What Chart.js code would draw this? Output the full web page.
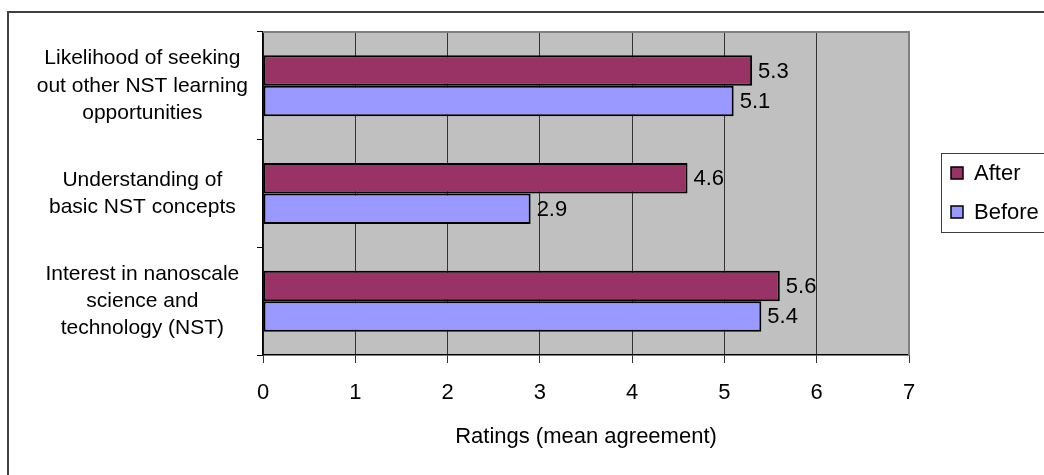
<!DOCTYPE html>
<html>
<head>
<meta charset="utf-8">
<script src="https://cdn.jsdelivr.net/npm/chart.js@4.4.1/dist/chart.umd.min.js"></script>
<style>
  html, body { margin: 0; padding: 0; background: #fff; }
  #wrap { width: 1044px; height: 475px; }
</style>
</head>
<body>
<div id="wrap"><canvas id="c" width="1044" height="475"></canvas></div>
<script>
// Survey items (top to bottom), each label split into display lines
const categories = [
  ['Likelihood of seeking', 'out other NST learning', 'opportunities'],
  ['Understanding of', 'basic NST concepts'],
  ['Interest in nanoscale', 'science and', 'technology (NST)']
];
const afterValues = [5.3, 4.6, 5.6];
const beforeValues = [5.1, 2.9, 5.4];
const seriesNames = ['After', 'Before'];
const axisTitle = 'Ratings (mean agreement)';
const axisMin = 0;
const axisMax = 7;

const FONT = "'Liberation Sans', Arial, sans-serif";
const COLORS = ['#993366', '#9999FF'];

// Gray plot background, outer frame and plot border
const framePlugin = {
  id: 'frame',
  beforeDraw(chart) {
    const { ctx, chartArea: a } = chart;
    ctx.save();
    ctx.fillStyle = '#fff';
    ctx.fillRect(0, 0, chart.width, chart.height);
    ctx.strokeStyle = '#404040';
    ctx.lineWidth = 2;
    ctx.strokeRect(8, 12, chart.width + 20, chart.height + 20);
    ctx.fillStyle = '#C0C0C0';
    ctx.fillRect(a.left, a.top, a.right - a.left, a.bottom - a.top);
    ctx.restore();
  },
  beforeDatasetsDraw(chart) {
    const { ctx, chartArea: a } = chart;
    ctx.save();
    ctx.strokeStyle = '#808080';
    ctx.lineWidth = 2;
    ctx.beginPath();
    ctx.moveTo(a.left, a.top);
    ctx.lineTo(a.right, a.top);
    ctx.lineTo(a.right, a.bottom);
    ctx.stroke();
    ctx.restore();
  }
};

// Value labels at the end of each bar
const valueLabelPlugin = {
  id: 'valueLabels',
  afterDatasetsDraw(chart) {
    const { ctx } = chart;
    ctx.save();
    ctx.font = '22px ' + FONT;
    ctx.fillStyle = '#000';
    ctx.textAlign = 'left';
    ctx.textBaseline = 'middle';
    chart.data.datasets.forEach((ds, di) => {
      const meta = chart.getDatasetMeta(di);
      meta.data.forEach((bar, i) => {
        ctx.fillText(ds.data[i].toFixed(1), bar.x + 6, bar.y + 1);
      });
    });
    ctx.restore();
  }
};

// Boxed legend on the right
const legendBoxPlugin = {
  id: 'legendBox',
  afterDraw(chart) {
    const { ctx } = chart;
    const left = 941, top = 153, bottom = 232;
    ctx.save();
    ctx.fillStyle = '#fff';
    ctx.fillRect(left, top, chart.width - left + 10, bottom - top);
    ctx.strokeStyle = '#404040';
    ctx.lineWidth = 1;
    ctx.strokeRect(left + 0.5, top + 0.5, chart.width - left + 10, bottom - top);
    ctx.font = '22px ' + FONT;
    ctx.textAlign = 'left';
    ctx.textBaseline = 'middle';
    chart.data.datasets.forEach((ds, i) => {
      const cy = 173 + i * 39;
      ctx.fillStyle = ds.backgroundColor;
      ctx.fillRect(951, cy - 6, 12, 12);
      ctx.strokeStyle = '#000';
      ctx.lineWidth = 1.5;
      ctx.strokeRect(951, cy - 6, 12, 12);
      ctx.fillStyle = '#000';
      ctx.fillText(ds.label, 974, cy + 1);
    });
    ctx.restore();
  }
};

new Chart(document.getElementById('c'), {
  type: 'bar',
  data: {
    labels: categories,
    datasets: [
      { label: seriesNames[0], data: afterValues, backgroundColor: COLORS[0],
        borderColor: '#000', borderWidth: 2, borderSkipped: false },
      { label: seriesNames[1], data: beforeValues, backgroundColor: COLORS[1],
        borderColor: '#000', borderWidth: 2, borderSkipped: false }
    ]
  },
  options: {
    indexAxis: 'y',
    responsive: false,
    animation: false,
    devicePixelRatio: 1,
    categoryPercentage: 0.567,
    barPercentage: 1.0,
    layout: { padding: { top: 32, right: 135, left: 0, bottom: 0 } },
    plugins: {
      legend: { display: false },
      tooltip: { enabled: false }
    },
    scales: {
      x: {
        min: axisMin,
        max: axisMax,
        ticks: { stepSize: 1, color: '#000', font: { family: FONT, size: 22 }, padding: 17 },
        grid: { color: '#333', lineWidth: 1, tickLength: 8, drawTicks: true },
        border: { color: '#000', width: 1.5 },
        title: { display: true, text: axisTitle, color: '#000',
                 font: { family: FONT, size: 22 }, padding: { top: 4, bottom: 25 } },
        afterFit(scale) { scale.height = 120; scale.paddingLeft = 0; scale.paddingRight = 0; }
      },
      y: {
        ticks: { color: '#000', font: { family: FONT, size: 21, lineHeight: 1.3 },
                 crossAlign: 'center', padding: 9 },
        grid: { drawOnChartArea: false, color: '#000', tickLength: 6, offset: true },
        border: { color: '#000', width: 1.5 },
        afterFit(scale) { scale.width = 263; scale.paddingTop = 0; scale.paddingBottom = 0; }
      }
    }
  },
  plugins: [framePlugin, valueLabelPlugin, legendBoxPlugin]
});
</script>
</body>
</html>
